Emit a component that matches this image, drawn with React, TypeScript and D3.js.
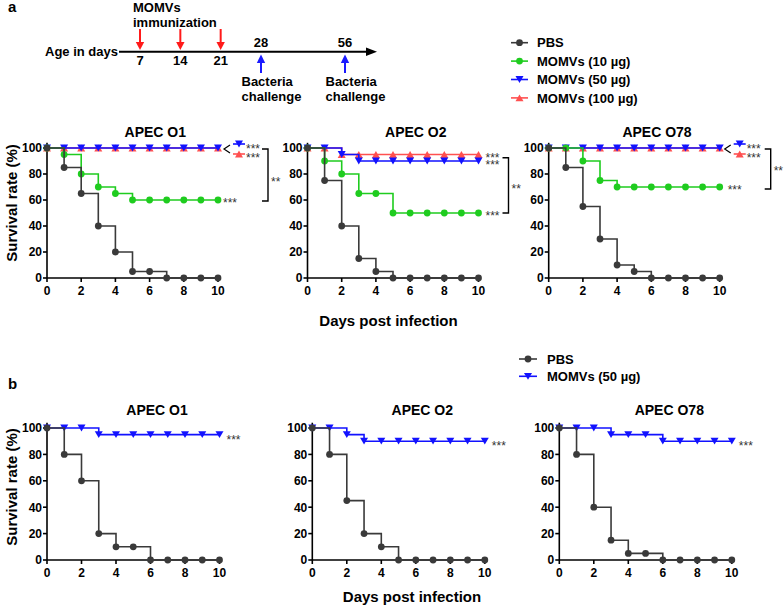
import React from 'react';
import * as d3 from 'd3';

// ---------- data ----------
const days = [0, 1, 2, 3, 4, 5, 6, 7, 8, 9, 10];
const xTicks = [0, 2, 4, 6, 8, 10];
const yTicks = [0, 20, 40, 60, 80, 100];
const strains = ['APEC O1', 'APEC O2', 'APEC O78'];

// panel a
const aPBS_O1 = [100, 85, 65, 40, 20, 5, 5, 0, 0, 0, 0];
const aM10_O1 = [100, 95, 80, 70, 65, 60, 60, 60, 60, 60, 60];
const aM50_O1 = [100, 100, 100, 100, 100, 100, 100, 100, 100, 100, 100];
const aM100_O1 = [100, 100, 100, 100, 100, 100, 100, 100, 100, 100, 100];

const aPBS_O2 = [100, 75, 40, 15, 5, 0, 0, 0, 0, 0, 0];
const aM10_O2 = [100, 90, 80, 65, 65, 50, 50, 50, 50, 50, 50];
const aM50_O2 = [100, 100, 95, 90, 90, 90, 90, 90, 90, 90, 90];
const aM100_O2 = [100, 100, 95, 95, 95, 95, 95, 95, 95, 95, 95];

const aPBS_O78 = [100, 85, 55, 30, 10, 5, 0, 0, 0, 0, 0];
const aM10_O78 = [100, 100, 90, 75, 70, 70, 70, 70, 70, 70, 70];
const aM50_O78 = [100, 100, 100, 100, 100, 100, 100, 100, 100, 100, 100];
const aM100_O78 = [100, 100, 100, 100, 100, 100, 100, 100, 100, 100, 100];

// panel b
const bPBS_O1 = [100, 80, 60, 20, 10, 10, 0, 0, 0, 0, 0];
const bM50_O1 = [100, 100, 100, 95, 95, 95, 95, 95, 95, 95, 95];
const bPBS_O2 = [100, 80, 45, 20, 10, 0, 0, 0, 0, 0, 0];
const bM50_O2 = [100, 100, 95, 90, 90, 90, 90, 90, 90, 90, 90];
const bPBS_O78 = [100, 80, 40, 15, 5, 5, 0, 0, 0, 0, 0];
const bM50_O78 = [100, 100, 100, 95, 95, 95, 90, 90, 90, 90, 90];

const legendA = ['PBS', 'MOMVs (10 µg)', 'MOMVs (50 µg)', 'MOMVs (100 µg)'];
const legendB = ['PBS', 'MOMVs (50 µg)'];

const immunDays = [7, 14, 21];
const challengeDays = [28, 56];

// ---------- styles ----------
const FONT = '"Liberation Sans", Arial, Helvetica, sans-serif';
const STY: Record<string, { color: string; shape: 'circle' | 'down' | 'up' }> = {
  PBS: { color: '#3a3a3a', shape: 'circle' },
  'MOMVs (10 µg)': { color: '#1fcc1f', shape: 'circle' },
  'MOMVs (50 µg)': { color: '#1212ff', shape: 'down' },
  'MOMVs (100 µg)': { color: '#ff5050', shape: 'up' },
};

function Marker({ x, y, name }: { x: number; y: number; name: string }) {
  const s = STY[name];
  if (s.shape === 'circle') return <circle cx={x} cy={y} r={3.4} fill={s.color} />;
  const h = 3.4, w = 4;
  const pts =
    s.shape === 'down'
      ? `${x - w},${y - h} ${x + w},${y - h} ${x},${y + h}`
      : `${x - w},${y + h} ${x + w},${y + h} ${x},${y - h}`;
  return <polygon points={pts} fill={s.color} />;
}

type Ser = { name: string; values: number[] };

const stars = (x: number, y: number, txt: string, key?: string) => (
  <text key={key} x={x} y={y + 7} fontSize={12} fill="#333" fontFamily={FONT}>
    {txt}
  </text>
);

function Panel(props: {
  left: number; top: number; width: number; height: number;
  title: string; titleDy: number; titleDx: number;
  series: Ser[];
  ann: (x: d3.ScaleLinear<number, number>, y: d3.ScaleLinear<number, number>) => React.ReactNode;
}) {
  const { left, top, width, height, title, titleDx, titleDy, series, ann } = props;
  const x = d3.scaleLinear().domain([0, 10]).range([left, left + width]);
  const y = d3.scaleLinear().domain([0, 100]).range([top + height, top]);
  const line = d3
    .line<number>()
    .x((_, i) => x(days[i]))
    .y((v) => y(v))
    .curve(d3.curveStepAfter);
  return (
    <g>
      <text x={left + titleDx} y={top + titleDy} textAnchor="middle" fontSize={14} fontWeight="bold" fontFamily={FONT}>
        {title}
      </text>
      {/* axes */}
      <line x1={left} x2={left} y1={y(0)} y2={y(104)} stroke="#000" strokeWidth={1.6} />
      <line x1={left} x2={x(10) + 1} y1={y(0)} y2={y(0)} stroke="#000" strokeWidth={1.6} />
      {yTicks.map((t) => (
        <g key={'y' + t}>
          <line x1={left - 4} x2={left} y1={y(t)} y2={y(t)} stroke="#000" strokeWidth={1.6} />
          <text x={left - 5} y={y(t) + 4.3} textAnchor="end" fontSize={12} fontWeight="bold" fontFamily={FONT}>
            {t}
          </text>
        </g>
      ))}
      {xTicks.map((t) => (
        <g key={'x' + t}>
          <line x1={x(t)} x2={x(t)} y1={y(0)} y2={y(0) + 4} stroke="#000" strokeWidth={1.6} />
          <text x={x(t)} y={y(0) + 16.6} textAnchor="middle" fontSize={12} fontWeight="bold" fontFamily={FONT}>
            {t}
          </text>
        </g>
      ))}
      {series.map((s) => (
        <g key={s.name}>
          <path d={line(s.values) || ''} fill="none" stroke={STY[s.name].color} strokeWidth={1.6} />
          {s.values.map((v, i) => (
            <Marker key={i} x={x(days[i])} y={y(v)} name={s.name} />
          ))}
        </g>
      ))}
      {ann(x, y)}
    </g>
  );
}

function Bracket({ bx, y1, y2, sy }: { bx: number; y1: number; y2: number; sy: number }) {
  return (
    <g>
      <path d={`M${bx - 6},${y1}H${bx}V${y2}H${bx - 6}`} fill="none" stroke="#000" strokeWidth={1.4} />
      {stars(bx + 3, sy, '**')}
    </g>
  );
}

function Brace({ x0, yc, topName, botName }: { x0: number; yc: number; topName: string; botName: string }) {
  const yT = yc - 5, yB = yc + 5;
  return (
    <g>
      <path d={`M${x0 + 6},${yT + 1}L${x0},${yc}L${x0 + 6},${yB - 1}`} fill="none" stroke="#000" strokeWidth={1.2} />
      <line x1={x0 + 9} x2={x0 + 21} y1={yT} y2={yT} stroke={STY[topName].color} strokeWidth={1.6} />
      <Marker x={x0 + 15} y={yT} name={topName} />
      <line x1={x0 + 9} x2={x0 + 21} y1={yB} y2={yB} stroke={STY[botName].color} strokeWidth={1.6} />
      <Marker x={x0 + 15} y={yB} name={botName} />
      {stars(x0 + 22, yT + 1.5, '***')}
      {stars(x0 + 22, yB + 0.5, '***')}
    </g>
  );
}

export default function App() {
  const tl = d3.scaleLinear().domain([7, 28, 56]).range([140, 261, 345]);
  const topY = 148, topH = 130, topW = 171;
  const topXs = [47, 307.5, 548.7];
  const botY = 428, botH = 132, botW = 172.5;
  const botXs = [47, 312.3, 559.3];

  const aSeries: Ser[][] = [
    [aM100_O1, aM50_O1, aM10_O1, aPBS_O1],
    [aM100_O2, aM50_O2, aM10_O2, aPBS_O2],
    [aM100_O78, aM50_O78, aM10_O78, aPBS_O78],
  ].map((arr) => arr.map((values, i) => ({ name: [legendA[3], legendA[2], legendA[1], legendA[0]][i], values })));
  const bSeries: Ser[][] = [
    [bM50_O1, bPBS_O1],
    [bM50_O2, bPBS_O2],
    [bM50_O78, bPBS_O78],
  ].map((arr) => arr.map((values, i) => ({ name: [legendB[1], legendB[0]][i], values })));

  const aAnn = [
    (x: any, y: any) => (
      <g>
        <Brace x0={x(10) + 6} yc={y(100) + 1} topName={legendA[2]} botName={legendA[3]} />
        {stars(x(10) + 5, y(60), '***')}
        <Bracket bx={x(10) + 50} y1={y(100) + 1} y2={y(60) + 1} sy={y(76)} />
      </g>
    ),
    (x: any, y: any) => (
      <g>
        {stars(x(10) + 7, y(95), '***')}
        {stars(x(10) + 7, y(90) + 1, '***')}
        {stars(x(10) + 7, y(50), '***')}
        <Bracket bx={x(10) + 30} y1={y(92.5)} y2={y(50)} sy={y(70.5)} />
      </g>
    ),
    (x: any, y: any) => (
      <g>
        <Brace x0={x(10) + 5} yc={y(100) + 1} topName={legendA[2]} botName={legendA[3]} />
        {stars(x(10) + 8, y(70), '***')}
        <Bracket bx={x(10) + 51} y1={y(100) + 1} y2={y(70) + 2} sy={y(85)} />
      </g>
    ),
  ];

  const bold = { fontFamily: FONT, fontWeight: 'bold' as const };

  return (
    <svg width={784} height={607} style={{ position: 'absolute', left: 0, top: 0, background: '#fff' }}>
      <rect width={784} height={607} fill="#fff" />
      {/* panel labels */}
      <text x={8} y={12} fontSize={15} {...bold}>a</text>
      <text x={8} y={389} fontSize={15} {...bold}>b</text>

      {/* timeline */}
      <text x={118} y={56.3} textAnchor="end" fontSize={13} {...bold}>Age in days</text>
      <line x1={119} x2={368} y1={51.7} y2={51.7} stroke="#000" strokeWidth={2} />
      <polygon points={`366,47.5 377,51.7 366,55.9`} fill="#000" />
      <text x={133} y={11.5} fontSize={13} {...bold}>MOMVs</text>
      <text x={133} y={26.8} fontSize={13} {...bold}>immunization</text>
      {immunDays.map((d) => (
        <g key={'im' + d}>
          <line x1={tl(d)} x2={tl(d)} y1={29} y2={43} stroke="#ff1a1a" strokeWidth={2} />
          <polygon points={`${tl(d) - 4.2},42 ${tl(d) + 4.2},42 ${tl(d)},50`} fill="#ff1a1a" />
          <text x={tl(d)} y={64.6} textAnchor="middle" fontSize={13} {...bold}>{d}</text>
        </g>
      ))}
      {challengeDays.map((d) => (
        <g key={'ch' + d}>
          <line x1={tl(d)} x2={tl(d)} y1={62} y2={73} stroke="#1a1aff" strokeWidth={2} />
          <polygon points={`${tl(d) - 4.2},63 ${tl(d) + 4.2},63 ${tl(d)},54.5`} fill="#1a1aff" />
          <text x={tl(d)} y={47} textAnchor="middle" fontSize={13} {...bold}>{d}</text>
          <text x={tl(d) - 19.5} y={85.5} fontSize={13} {...bold}>Bacteria</text>
          <text x={tl(d) - 19.5} y={100.5} fontSize={13} {...bold}>challenge</text>
        </g>
      ))}

      {/* legend a */}
      {legendA.map((n, i) => {
        const cy = 42.7 + i * 18.4;
        return (
          <g key={'la' + n}>
            <line x1={511} x2={528} y1={cy} y2={cy} stroke={STY[n].color} strokeWidth={1.6} />
            <Marker x={519.5} y={cy} name={n} />
            <text x={537} y={cy + 4.6} fontSize={13} {...bold}>{n}</text>
          </g>
        );
      })}
      {/* legend b */}
      {legendB.map((n, i) => {
        const cy = 359 + i * 17.3;
        return (
          <g key={'lb' + n}>
            <line x1={519} x2={537} y1={cy} y2={cy} stroke={STY[n].color} strokeWidth={1.6} />
            <Marker x={528} y={cy} name={n} />
            <text x={547} y={cy + 4.6} fontSize={13} {...bold}>{n}</text>
          </g>
        );
      })}

      {/* panels a */}
      {strains.map((s, i) => (
        <Panel key={'a' + s} left={topXs[i]} top={topY} width={topW} height={topH} title={s}
          titleDx={108.3} titleDy={-11.5} series={aSeries[i]} ann={aAnn[i]} />
      ))}
      {/* panels b */}
      {strains.map((s, i) => (
        <Panel key={'b' + s} left={botXs[i]} top={botY} width={botW} height={botH} title={s}
          titleDx={110} titleDy={-13} series={bSeries[i]}
          ann={(x, y) => stars(x(10) + 7, y(bSeries[i][0].values[10]) + 2, '***')} />
      ))}

      {/* axis titles */}
      <text transform="translate(16.5,203) rotate(-90)" textAnchor="middle" fontSize={15} {...bold}>Survival rate (%)</text>
      <text transform="translate(16.5,487) rotate(-90)" textAnchor="middle" fontSize={15} {...bold}>Survival rate (%)</text>
      <text x={388.5} y={325.5} textAnchor="middle" fontSize={15} {...bold}>Days post infection</text>
      <text x={412} y={602} textAnchor="middle" fontSize={15} {...bold}>Days post infection</text>
    </svg>
  );
}
